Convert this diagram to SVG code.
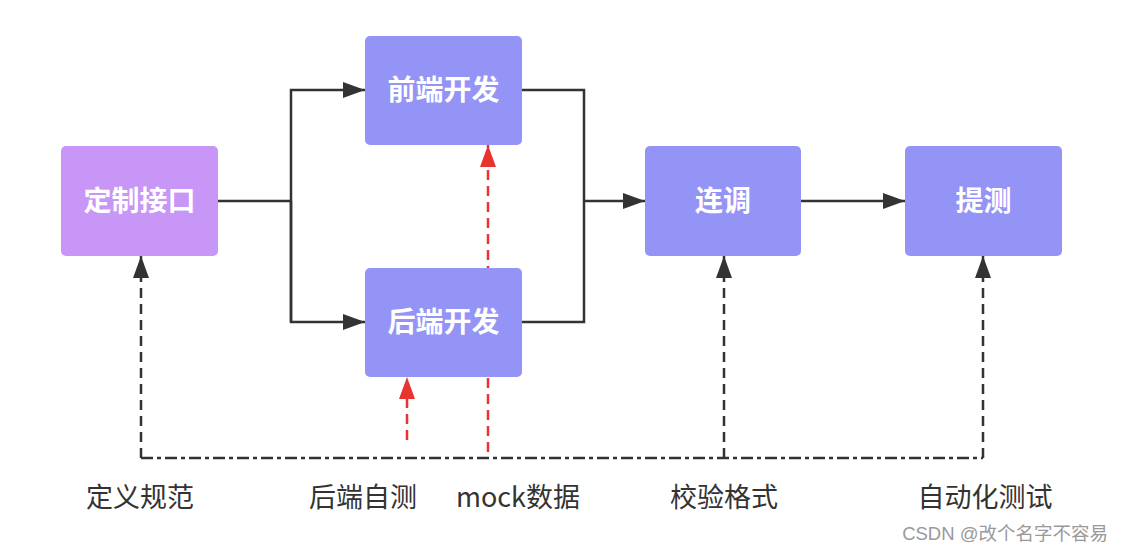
<svg xmlns="http://www.w3.org/2000/svg" width="1124" height="553" viewBox="0 0 1124 553">
<defs>
<style>
.node{fill:#9494F7}
.nt{font-family:"Noto Sans CJK SC","Liberation Sans",sans-serif;font-size:28px;font-weight:bold;fill:#fff;text-anchor:middle}
.lbl{font-family:"Noto Sans CJK SC","Liberation Sans",sans-serif;font-size:27px;fill:#333;text-anchor:middle}
.solid{fill:none;stroke:#333;stroke-width:2.5}
.bdash{fill:none;stroke:#333;stroke-width:2.5;stroke-dasharray:10 6}
.dashdot{fill:none;stroke:#333;stroke-width:2.5;stroke-dasharray:12 4 4 4}
.rdash{fill:none;stroke:#E8332E;stroke-width:2.5;stroke-dasharray:10 6}
</style>
<marker id="ab" viewBox="0 0 22 16" refX="22" refY="8" markerWidth="22" markerHeight="16" markerUnits="userSpaceOnUse" orient="auto"><path d="M0,0 L22,8 L0,16 Z" fill="#333"/></marker>
<marker id="ar" viewBox="0 0 22 16" refX="22" refY="8" markerWidth="22" markerHeight="16" markerUnits="userSpaceOnUse" orient="auto"><path d="M0,0 L22,8 L0,16 Z" fill="#E8332E"/></marker>
</defs>
<rect width="1124" height="553" fill="#fff"/>
<g id="connectors">
<path class="solid" d="M218,201 H291"/>
<path class="solid" d="M291,322 V90 H365" marker-end="url(#ab)"/>
<path class="solid" d="M291,201 V322 H365" marker-end="url(#ab)"/>
<path class="solid" d="M522,90 H584 V322 H522"/>
<path class="solid" d="M584,201 H645" marker-end="url(#ab)"/>
<path class="solid" d="M801,201 H905" marker-end="url(#ab)"/>
<path class="dashdot" d="M141,458 H983"/>
<path class="bdash" d="M141,458 V256" marker-end="url(#ab)"/>
<path class="bdash" d="M724,458 V256" marker-end="url(#ab)"/>
<path class="bdash" d="M983,458 V256" marker-end="url(#ab)"/>
<path class="rdash" d="M407,440 V377" marker-end="url(#ar)"/>
<path class="rdash" d="M488,452 V145" marker-end="url(#ar)"/>
</g>
<g id="n-dingzhi"><rect x="61" y="146" width="157" height="110" rx="5" fill="#C896F7"/><text class="nt" x="139.5" y="211">定制接口</text></g>
<g id="n-qianduan"><rect class="node" x="365" y="36" width="157" height="109" rx="5"/><text class="nt" x="443.5" y="100">前端开发</text></g>
<g id="n-houduan"><rect class="node" x="365" y="268" width="157" height="109" rx="5"/><text class="nt" x="443.5" y="332">后端开发</text></g>
<g id="n-liantiao"><rect class="node" x="645" y="146" width="156" height="110" rx="5"/><text class="nt" x="723" y="211">连调</text></g>
<g id="n-tice"><rect class="node" x="905" y="146" width="157" height="110" rx="5"/><text class="nt" x="983.5" y="211">提测</text></g>
<g id="labels">
<text class="lbl" x="140" y="507">定义规范</text>
<text class="lbl" x="363" y="507">后端自测</text>
<text class="lbl" x="518" y="507">mock数据</text>
<text class="lbl" x="724" y="507">校验格式</text>
<text class="lbl" x="985" y="507">自动化测试</text>
<text x="1108" y="540" font-family="Liberation Sans,'Noto Sans CJK SC',sans-serif" font-size="18.5" fill="#999" text-anchor="end">CSDN @改个名字不容易</text>
</g>
</svg>
